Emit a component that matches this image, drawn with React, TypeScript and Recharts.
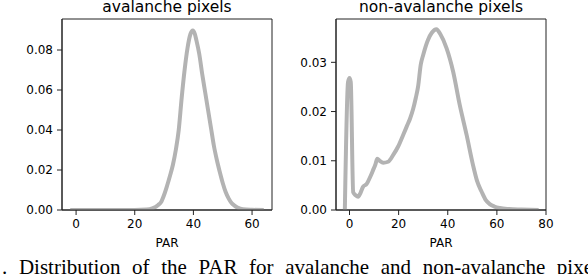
import { LineChart, Line, XAxis, YAxis, ReferenceArea } from 'recharts';

// density estimate of PAR
const avalanchePar = [-2, 0, 10, 20, 24, 26, 28, 29, 30, 31, 32, 33, 34, 35, 36, 37, 38, 39, 39.8, 40.5, 41, 42, 43, 44, 45, 46, 47, 48, 49, 50, 51, 52, 53, 54, 55, 56, 58, 60, 64];
const avalancheDensity = [0, 0, 0, 0, 0.0002, 0.0008, 0.0025, 0.004, 0.0075, 0.012, 0.017, 0.0225, 0.03, 0.04, 0.056, 0.07, 0.081, 0.088, 0.0898, 0.088, 0.085, 0.078, 0.068, 0.059, 0.05, 0.041, 0.032, 0.025, 0.019, 0.0135, 0.009, 0.0058, 0.0035, 0.0022, 0.0012, 0.0006, 0.0002, 0.0001, 0];

const nonAvalanchePar = [-1.9, -0.6, 0, 0.5, 1.5, 2.5, 3.5, 4.5, 5.5, 7, 8.5, 9.6, 10.5, 11.3, 12.3, 13.7, 15.7, 17.8, 19.8, 21.8, 23.5, 24.6, 25.9, 27, 27.9, 29, 30, 31.9, 33.5, 35.4, 37, 39.5, 42.2, 44.9, 47.7, 50.3, 52, 53.8, 55.5, 57.1, 59, 61.2, 65, 70, 77];
const nonAvalancheDensity = [0, 0.026, 0.0268, 0.026, 0.0036, 0.003, 0.0027, 0.0035, 0.0047, 0.0053, 0.0068, 0.0081, 0.0092, 0.0104, 0.01, 0.0096, 0.0098, 0.0112, 0.0129, 0.0152, 0.0172, 0.0185, 0.0205, 0.0228, 0.025, 0.0295, 0.0315, 0.0345, 0.036, 0.0367, 0.0357, 0.0329, 0.0281, 0.0213, 0.0152, 0.0091, 0.0058, 0.0037, 0.002, 0.0012, 0.0007, 0.0004, 0.0002, 0.0001, 0];

const avalancheXTicks = [0, 20, 40, 60];
const avalancheYTicks = [0, 0.02, 0.04, 0.06, 0.08];
const nonAvalancheXTicks = [0, 20, 40, 60, 80];
const nonAvalancheYTicks = [0, 0.01, 0.02, 0.03];

const FONT = "'DejaVu Sans', sans-serif";
const LINE = '#b3b3b3';
const FRAME = '#222';

interface PanelProps {
  title: string;
  par: number[];
  density: number[];
  xDomain: [number, number];
  yDomain: [number, number];
  xTicks: number[];
  yTicks: number[];
  left: number;
  width: number;
  yAxisWidth: number;
  marginRight: number;
}

function Panel({ title, par, density, xDomain, yDomain, xTicks, yTicks, left, width, yAxisWidth, marginRight }: PanelProps) {
  const data = par.map((x, i) => ({ x, y: density[i] }));
  const plotW = width - yAxisWidth - marginRight;
  const tick = { fontSize: 12, fill: '#000', fontFamily: FONT };
  return (
    <div style={{ position: 'absolute', left, top: 0, width, height: 252 }}>
      <div style={{
        position: 'absolute', left: yAxisWidth, top: -2, width: plotW, textAlign: 'center',
        fontFamily: FONT, fontSize: 15.5, lineHeight: '18px', color: '#000', whiteSpace: 'nowrap',
      }}>
        {title}
      </div>
      <LineChart width={width} height={252} data={data} margin={{ top: 19, right: marginRight, left: 0, bottom: 5 }}>
        <XAxis
          dataKey="x" type="number" domain={xDomain} ticks={xTicks} allowDataOverflow
          tick={tick} tickSize={5} tickMargin={4} height={37}
          axisLine={{ stroke: FRAME }} tickLine={{ stroke: FRAME }}
          label={{ value: 'PAR', position: 'insideBottom', offset: 0, fontSize: 12, fill: '#000', fontFamily: FONT }}
        />
        <YAxis
          type="number" domain={yDomain} ticks={yTicks} allowDataOverflow
          tick={tick} tickSize={5} tickMargin={4} width={yAxisWidth}
          tickFormatter={(v) => Number(v).toFixed(2)}
          axisLine={{ stroke: FRAME }} tickLine={{ stroke: FRAME }}
        />
        <ReferenceArea x1={xDomain[0]} x2={xDomain[1]} y1={yDomain[0]} y2={yDomain[1]}
          fill="none" stroke={FRAME} strokeWidth={1} fillOpacity={0} />
        <Line type="monotone" dataKey="y" stroke={LINE} strokeWidth={4} dot={false} isAnimationActive={false} />
      </LineChart>
    </div>
  );
}

export default function App() {
  return (
    <div style={{ position: 'absolute', left: 0, top: 0, width: 588, height: 274, overflow: 'hidden', background: '#fff' }}>
      <Panel
        title="avalanche pixels" par={avalanchePar} density={avalancheDensity}
        xDomain={[-4.8, 66.8]} yDomain={[0, 0.0955]} xTicks={avalancheXTicks} yTicks={avalancheYTicks}
        left={0} width={290} yAxisWidth={62} marginRight={18}
      />
      <Panel
        title="non-avalanche pixels" par={nonAvalanchePar} density={nonAvalancheDensity}
        xDomain={[-5.5, 80]} yDomain={[0, 0.0388]} xTicks={nonAvalancheXTicks} yTicks={nonAvalancheYTicks}
        left={280} width={288} yAxisWidth={56} marginRight={22}
      />
      <div style={{
        position: 'absolute', left: 2, top: 257, fontFamily: "'Liberation Serif', 'Times New Roman', serif",
        fontSize: 21, lineHeight: '21px', wordSpacing: 6.4, whiteSpace: 'nowrap', color: '#000',
      }}>
        . Distribution of the PAR for avalanche and non-avalanche pixels.
      </div>
    </div>
  );
}
